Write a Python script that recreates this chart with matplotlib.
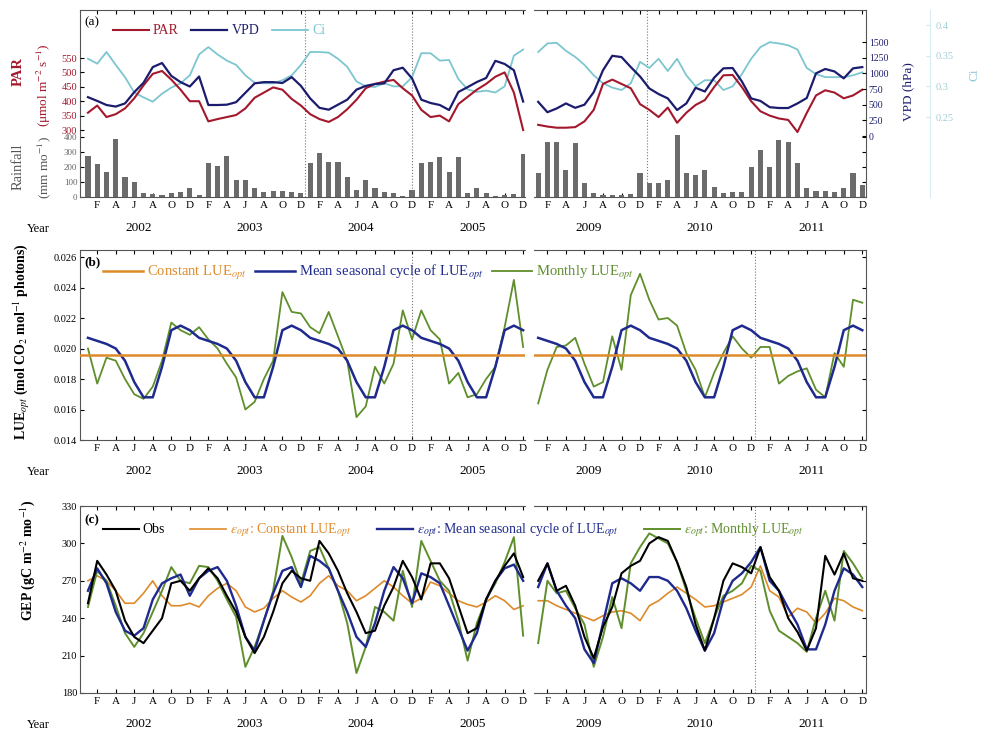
import numpy as np
import matplotlib
matplotlib.use("Agg")
import matplotlib.pyplot as plt

plt.rcParams["font.family"] = ["Liberation Serif", "DejaVu Serif"]
plt.rcParams["mathtext.fontset"] = "stix"

# ---------------- data (monthly) ----------------
YEARS_L = [2002, 2003, 2004, 2005]
YEARS_R = [2009, 2010, 2011]
MONTH_TICKS = ["F", "A", "J", "A", "O", "D"]

par_l = [360, 385, 345, 355, 375, 410, 455, 495, 505, 475, 440, 400,
         400, 330, 338, 345, 352, 375, 412, 430, 448, 440, 408, 385,
         355, 338, 328, 345, 372, 405, 445, 460, 468, 474, 445, 420,
         370, 345, 350, 330, 390, 415, 440, 460, 485, 500, 430, 300]
par_r = [318, 312, 308, 308, 310, 330, 370, 460, 475, 460, 445, 390,
         370, 345, 378, 325, 360, 387, 404, 449, 490, 491, 449, 400,
         365, 350, 340, 335, 293, 359, 420, 438, 430, 410, 420, 440]

vpd_l = [620, 560, 495, 470, 520, 700, 850, 1100, 1165, 960, 860, 790,
         950, 495, 495, 500, 540, 690, 840, 860, 860, 846, 940, 800,
         600, 450, 420, 500, 580, 740, 800, 830, 840, 1050, 1090, 920,
         580, 527, 495, 415, 702, 780, 862, 926, 1200, 1150, 1050, 550]
vpd_r = [545, 380, 440, 520, 450, 500, 700, 1050, 1280, 1260, 1100, 950,
         760, 670, 600, 415, 520, 770, 710, 930, 1080, 1085, 870, 600,
         560, 460, 447, 447, 520, 606, 1000, 1070, 1030, 920, 1080, 1100]

ci_l = [0.345, 0.337, 0.356, 0.335, 0.315, 0.290, 0.282, 0.275, 0.288, 0.298, 0.305, 0.318,
        0.352, 0.364, 0.352, 0.342, 0.335, 0.318, 0.306, 0.305, 0.305, 0.310, 0.318, 0.335,
        0.356, 0.356, 0.355, 0.345, 0.332, 0.308, 0.300, 0.299, 0.305, 0.300, 0.300, 0.315,
        0.354, 0.354, 0.342, 0.343, 0.312, 0.295, 0.291, 0.293, 0.290, 0.300, 0.350, 0.360]
ci_r = [0.356, 0.370, 0.371, 0.358, 0.348, 0.335, 0.318, 0.305, 0.298, 0.294, 0.305, 0.340,
        0.330, 0.345, 0.325, 0.345, 0.318, 0.300, 0.310, 0.310, 0.294, 0.300, 0.320, 0.345,
        0.364, 0.372, 0.370, 0.367, 0.360, 0.330, 0.320, 0.315, 0.315, 0.315, 0.318, 0.323]

rain_l = [273, 220, 167, 387, 133, 100, 27, 20, 13, 27, 33, 60,
          13, 227, 207, 273, 113, 113, 60, 33, 40, 40, 33, 27,
          227, 293, 233, 233, 133, 47, 113, 60, 33, 27, 10, 47,
          227, 233, 267, 167, 267, 27, 60, 27, 10, 13, 20, 290]
rain_r = [160, 367, 367, 180, 360, 93, 27, 13, 13, 13, 20, 160,
          93, 93, 113, 413, 160, 147, 180, 67, 27, 33, 33, 200,
          313, 200, 380, 367, 227, 60, 40, 40, 33, 60, 160, 80]

lue_const = 0.0196
lue_seasonal = [0.0207, 0.0205, 0.0203, 0.0200, 0.0192, 0.0178,
                0.0168, 0.0168, 0.0188, 0.0212, 0.0215, 0.0212]
lue_month_l = [0.0200, 0.0177, 0.0194, 0.0192, 0.0180, 0.0170, 0.0167, 0.0175, 0.0192, 0.0217, 0.0212, 0.0209,
               0.0214, 0.0206, 0.0200, 0.0190, 0.0181, 0.0160, 0.0165, 0.0180, 0.0192, 0.0237, 0.0224, 0.0223,
               0.0214, 0.0210, 0.0224, 0.0208, 0.0192, 0.0155, 0.0162, 0.0188, 0.0177, 0.0190, 0.0225, 0.0206,
               0.0225, 0.0212, 0.0206, 0.0177, 0.0184, 0.0168, 0.0170, 0.0180, 0.0188, 0.0214, 0.0245, 0.0201]
lue_month_r = [0.0164, 0.0186, 0.0201, 0.0202, 0.0207, 0.0190, 0.0175, 0.0178, 0.0208, 0.0186, 0.0235, 0.0249,
               0.0232, 0.0219, 0.0220, 0.0215, 0.0197, 0.0186, 0.0168, 0.0184, 0.0197, 0.0208, 0.0200, 0.0194,
               0.0201, 0.0201, 0.0177, 0.0182, 0.0185, 0.0187, 0.0173, 0.0168, 0.0197, 0.0188, 0.0232, 0.0230]

gpp_obs_l = [252, 286, 275, 262, 238, 225, 220, 230, 240, 268, 270, 262,
             272, 280, 272, 258, 245, 225, 212, 225, 245, 268, 278, 272,
             270, 302, 292, 278, 260, 245, 228, 230, 250, 265, 286, 273,
             255, 284, 284, 272, 250, 228, 232, 255, 270, 282, 292, 273]
gpp_obs_r = [270, 284, 262, 266, 250, 225, 208, 233, 249, 276, 282, 286,
             300, 305, 302, 285, 265, 235, 214, 240, 270, 284, 281, 276,
             297, 273, 262, 240, 229, 214, 232, 290, 275, 292, 272, 270]
gpp_const_l = [270, 274, 270, 262, 252, 252, 260, 270, 258, 250, 250, 252,
               249, 258, 264, 268, 262, 249, 245, 248, 256, 262, 257, 253,
               258, 268, 274, 266, 262, 254, 258, 264, 270, 265, 258, 252,
               256, 269, 266, 260, 254, 251, 249, 253, 258, 254, 247, 250]
gpp_const_r = [254, 254, 250, 247, 244, 241, 238, 242, 245, 246, 244, 238,
               250, 254, 260, 265, 260, 255, 249, 250, 253, 256, 259, 265,
               282, 262, 257, 241, 248, 245, 236, 244, 256, 254, 249, 246]
gpp_seas_l = [262, 280, 268, 245, 230, 226, 232, 255, 268, 272, 275, 258,
              272, 278, 281, 270, 250, 225, 214, 238, 260, 278, 281, 265,
              290, 286, 280, 262, 245, 225, 217, 236, 262, 281, 272, 252,
              276, 273, 268, 250, 232, 214, 228, 255, 270, 280, 283, 270]
gpp_seas_r = [265, 284, 262, 250, 240, 215, 204, 236, 268, 272, 268, 262,
              273, 273, 270, 262, 248, 230, 214, 228, 255, 270, 276, 285,
              297, 270, 262, 248, 235, 215, 215, 235, 262, 280, 275, 265]
gpp_month_l = [249, 278, 270, 250, 228, 217, 228, 245, 262, 281, 270, 268,
               282, 281, 270, 255, 241, 201, 217, 238, 262, 306, 289, 268,
               294, 297, 280, 262, 236, 196, 217, 249, 245, 238, 278, 249,
               302, 286, 270, 262, 238, 206, 236, 255, 268, 285, 305, 226]
gpp_month_r = [220, 270, 260, 262, 248, 235, 201, 225, 257, 232, 284, 297,
               308, 304, 300, 285, 262, 240, 220, 240, 258, 262, 268, 282,
               278, 246, 230, 225, 220, 213, 240, 262, 238, 294, 284, 272]

# ---------------- layout (pixels of the 981x740 canvas) ----------------
W, H = 981, 740
SEGS = {"L": dict(xs=(80, 525), xlim=(-0.86, 47.2), years=YEARS_L),
        "R": dict(xs=(534, 866), xlim=(-0.45, 35.4), years=YEARS_R)}
PANEL_Y = {"a": (10, 197), "b": (250, 440), "c": (506, 693)}

C_PAR, C_VPD, C_CI, C_RAIN = "#a3182c", "#1c1c6e", "#7cc6d0", "#6b6b6b"
C_CON, C_SEA, C_MON = "#de8a2a", "#1f2a8e", "#5f8f2c"


def rect(xs, ys):
    return [xs[0] / W, 1 - ys[1] / H, (xs[1] - xs[0]) / W, (ys[1] - ys[0]) / H]


def overlay(r, xlim):
    ax = fig.add_axes(r, facecolor="none")
    ax.set_xlim(*xlim)
    for s in ax.spines.values():
        s.set_visible(False)
    ax.set_xticks([])
    ax.set_yticks([])
    return ax


def base_axes(r, side, seg):
    ax = fig.add_axes(r)
    n = 12 * len(seg["years"])
    ax.set_xlim(*seg["xlim"])
    ax.spines["left" if side == "R" else "right"].set_visible(False)
    for s in ax.spines.values():
        s.set_linewidth(0.8)
        s.set_color("#555555")
    ticks = np.arange(1, n, 2)
    ax.set_xticks(ticks)
    ax.set_xticklabels(MONTH_TICKS * len(seg["years"]))
    ax.tick_params(axis="x", direction="in", top=True, length=3, labelsize=8, pad=3)
    ax.tick_params(axis="y", direction="in", length=3, labelsize=7.5, pad=2)
    for k, yr in enumerate(seg["years"]):
        ax.annotate(str(yr), xy=(5.5 + 12 * k, 0), xycoords=("data", "axes fraction"),
                    xytext=(0, -18), textcoords="offset points",
                    ha="center", va="top", fontsize=9.5)
    return ax


def year_word(ybot):
    fig.text(38 / W, 1 - (ybot + 32) / H, "Year", ha="center", va="center", fontsize=9)


fig = plt.figure(figsize=(9.81, 7.40), dpi=100)

# ---------------- panel (a) ----------------
a_data = {"L": (par_l, vpd_l, ci_l, rain_l, [23.4, 35.0]),
          "R": (par_r, vpd_r, ci_r, rain_r, [11.7])}
handles_a = None
for side, seg in SEGS.items():
    par, vpd, ci, rain, vlines = a_data[side]
    idx = np.arange(len(par))
    r = rect(seg["xs"], PANEL_Y["a"])
    ax_rain = base_axes(r, side, seg)
    ax_rain.bar(idx, rain, width=0.55, color=C_RAIN, zorder=2)
    ax_rain.set_ylim(0, 1247)
    for v in vlines:
        ax_rain.axvline(v, color="#777777", ls=":", lw=0.8)

    ax_ci = overlay(r, seg["xlim"])
    l_ci, = ax_ci.plot(idx, ci, color=C_CI, lw=1.3, label="Ci")
    ax_ci.set_ylim(0.1196, 0.4245)
    ax_par = overlay(r, seg["xlim"])
    l_par, = ax_par.plot(idx, par, color=C_PAR, lw=1.5, label="PAR")
    ax_par.set_ylim(67.4, 716.7)
    ax_vpd = overlay(r, seg["xlim"])
    l_vpd, = ax_vpd.plot(idx, vpd, color=C_VPD, lw=1.6, label="VPD")
    ax_vpd.set_ylim(-973, 2011)

    if side == "L":
        handles_a = [l_par, l_vpd, l_ci]
        ax_rain.set_yticks([0, 100, 200, 300, 400])
        ax_rain.tick_params(axis="y", labelsize=6.5, labelcolor="#666666")
        ax_par.set_yticks([300, 350, 400, 450, 500, 550])
        ax_par.tick_params(axis="y", direction="in", length=3, labelsize=7.5,
                           labelcolor=C_PAR, pad=2)
    else:
        ax_rain.yaxis.tick_right()
        ax_rain.set_yticks([0, 100, 200, 300, 400])
        ax_rain.set_yticklabels([])
        ax_vpd.yaxis.tick_right()
        ax_vpd.set_yticks([0, 250, 500, 750, 1000, 1250, 1500])
        ax_vpd.tick_params(axis="y", direction="in", length=3, labelsize=7,
                           labelcolor=C_VPD, pad=2)
        ax_ci.spines["right"].set_visible(True)
        ax_ci.spines["right"].set_position(("outward", 46))
        ax_ci.spines["right"].set_color("#d6eef1")
        ax_ci.yaxis.tick_right()
        ax_ci.set_yticks([0.25, 0.3, 0.35, 0.4])
        ax_ci.set_yticklabels(["0.25", "0.3", "0.35", "0.4"])
        ax_ci.tick_params(axis="y", direction="in", length=3, labelsize=7.5,
                          labelcolor="#9fcfd6", color="#cfe9ec", pad=4)
year_word(PANEL_Y["a"][1])
fig.text(84 / W, 1 - 22 / H, "(a)", ha="left", va="center", fontsize=9.5)
fig.legend(handles_a, ["PAR", "VPD", "Ci"], loc="upper left",
           bbox_to_anchor=(100 / W, 1 - 12 / H), ncol=3, frameon=False,
           fontsize=10, handlelength=2.6, columnspacing=0.9, handletextpad=0.3,
           labelcolor="linecolor")
fig.text(18 / W, 1 - 72 / H, "PAR", rotation=90, ha="center", va="center",
         fontsize=10.5, color=C_PAR, fontweight="bold")
fig.text(44 / W, 1 - 85 / H, "(μmol m$^{-2}$ s$^{-1}$)", rotation=90, ha="center",
         va="center", fontsize=9.5, color=C_PAR)
fig.text(18 / W, 1 - 167 / H, "Rainfall", rotation=90, ha="center", va="center",
         fontsize=10.5, color="#555555")
fig.text(44 / W, 1 - 168 / H, "(mm mo$^{-1}$)", rotation=90, ha="center",
         va="center", fontsize=9.5, color="#555555")
fig.text(908 / W, 1 - 92 / H, "VPD (hPa)", rotation=90, ha="center", va="center",
         fontsize=9.5, color=C_VPD)
fig.text(975 / W, 1 - 75 / H, "Ci", rotation=90, ha="center", va="center",
         fontsize=9.5, color="#8ccbd4")

# ---------------- panel (b) ----------------
b_data = {"L": (lue_month_l, [35.0]), "R": (lue_month_r, [23.4])}
handles_b = None
for side, seg in SEGS.items():
    monthly, vlines = b_data[side]
    idx = np.arange(len(monthly))
    seasonal = np.tile(lue_seasonal, len(seg["years"]))
    ax = base_axes(rect(seg["xs"], PANEL_Y["b"]), side, seg)
    l_mon, = ax.plot(idx, monthly, color=C_MON, lw=1.3, zorder=3)
    l_sea, = ax.plot(idx, seasonal, color=C_SEA, lw=1.8, zorder=4)
    l_con = ax.axhline(lue_const, color=C_CON, lw=1.8, zorder=5)
    for v in vlines:
        ax.axvline(v, color="#777777", ls=":", lw=0.8)
    ax.set_ylim(0.014, 0.02646)
    ticks = [0.014, 0.016, 0.018, 0.020, 0.022, 0.024, 0.026]
    ax.set_yticks(ticks)
    if side == "L":
        handles_b = [l_con, l_sea, l_mon]
        ax.set_yticklabels([f"{t:.3f}" for t in ticks])
    else:
        ax.yaxis.tick_right()
        ax.set_yticklabels([])
year_word(PANEL_Y["b"][1])
fig.text(84 / W, 1 - 262 / H, "(b)", ha="left", va="center", fontsize=9.5,
         fontweight="bold")
fig.legend(handles_b, ["Constant LUE$_{opt}$", "Mean seasonal cycle of LUE$_{opt}$",
                       "Monthly LUE$_{opt}$"],
           loc="upper left", bbox_to_anchor=(90 / W, 1 - 250 / H), ncol=3,
           frameon=False, fontsize=10.5, handlelength=2.7, columnspacing=0.6,
           handletextpad=0.3, labelcolor="linecolor")
fig.text(22 / W, 1 - 342 / H, "LUE$_{opt}$ (mol CO$_2$ mol$^{-1}$ photons)",
         rotation=90, ha="center", va="center", fontsize=10, fontweight="bold")

# ---------------- panel (c) ----------------
c_data = {"L": (gpp_obs_l, gpp_const_l, gpp_seas_l, gpp_month_l, []),
          "R": (gpp_obs_r, gpp_const_r, gpp_seas_r, gpp_month_r, [23.4])}
handles_c = None
for side, seg in SEGS.items():
    obs, con, sea, mon, vlines = c_data[side]
    idx = np.arange(len(obs))
    ax = base_axes(rect(seg["xs"], PANEL_Y["c"]), side, seg)
    l_con, = ax.plot(idx, con, color=C_CON, lw=1.2, zorder=2)
    l_mon, = ax.plot(idx, mon, color=C_MON, lw=1.4, zorder=3)
    l_sea, = ax.plot(idx, sea, color=C_SEA, lw=1.7, zorder=4)
    l_obs, = ax.plot(idx, obs, color="black", lw=1.5, zorder=5)
    for v in vlines:
        ax.axvline(v, color="#777777", ls=":", lw=0.8)
    ax.set_ylim(180, 330)
    ax.set_yticks([180, 210, 240, 270, 300, 330])
    if side == "L":
        handles_c = [l_obs, l_con, l_sea, l_mon]
    else:
        ax.yaxis.tick_right()
        ax.set_yticklabels([])
year_word(PANEL_Y["c"][1])
fig.text(84 / W, 1 - 520 / H, "(c)", ha="left", va="center", fontsize=9.5,
         fontweight="bold")
fig.legend(handles_c, ["Obs", r"$\varepsilon_{opt}$: Constant LUE$_{opt}$",
                       r"$\varepsilon_{opt}$: Mean seasonal cycle of LUE$_{opt}$",
                       r"$\varepsilon_{opt}$: Monthly LUE$_{opt}$"],
           loc="upper left", bbox_to_anchor=(90 / W, 1 - 508 / H), ncol=4,
           frameon=False, fontsize=10, handlelength=2.6, columnspacing=1.8,
           handletextpad=0.3, labelcolor="linecolor")
fig.text(28 / W, 1 - 560 / H, "GEP (gC m$^{-2}$ mo$^{-1}$)", rotation=90,
         ha="center", va="center", fontsize=10, fontweight="bold")

fig.savefig("out.png", dpi=100)
